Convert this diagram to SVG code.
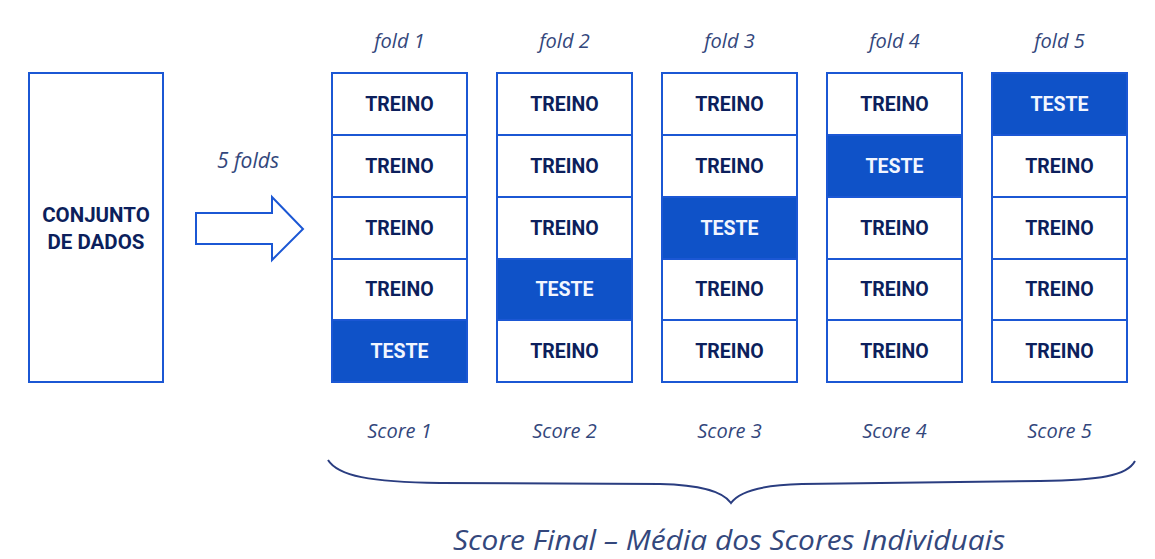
<svg xmlns="http://www.w3.org/2000/svg" width="1155" height="559" viewBox="0 0 1155 559">
  <style>
    .box { fill: #ffffff; stroke: #1b57d4; stroke-width: 2; }
    .test { fill: #0f52c8; stroke: #1b57d4; stroke-width: 2; }
    .lbl { font-family: Roboto, "Liberation Sans", sans-serif; font-weight: 700; font-size: 19.5px; text-anchor: middle; }
    .big { font-size: 20.5px; }
    .train-t { fill: #0c1f5c; }
    .test-t { fill: #f2f6ff; }
    .it { font-family: "Open Sans", "Liberation Sans", sans-serif; font-style: italic; font-size: 20px; fill: #33477c; text-anchor: middle; }
    .brace { fill: none; stroke: #2a3d80; stroke-width: 2; }
  </style>
  <rect width="1155" height="559" fill="#ffffff"/>

  <!-- dataset block -->
  <g id="dataset">
    <rect class="box" x="29" y="73" width="134" height="309"/>
    <text class="lbl big train-t" x="96" y="222">CONJUNTO</text>
    <text class="lbl big train-t" x="96" y="249">DE DADOS</text>
  </g>

  <!-- split arrow -->
  <g id="connectors">
    <polygon class="box" points="196,213 272,213 272,197 303,229 272,260 272,244 196,244"/>
    <text class="it" x="248" y="168" style="font-size:21px">5 folds</text>
  </g>

  <!-- fold 1 -->
  <g id="fold1">
    <text class="it" x="399.5" y="48">fold 1</text>
    <rect class="box" x="332" y="73" width="135" height="62"/>
    <rect class="box" x="332" y="135" width="135" height="62"/>
    <rect class="box" x="332" y="197" width="135" height="62"/>
    <rect class="box" x="332" y="259" width="135" height="61"/>
    <rect class="test" x="332" y="320" width="135" height="62"/>
    <text class="lbl train-t" x="399.5" y="111">TREINO</text>
    <text class="lbl train-t" x="399.5" y="173">TREINO</text>
    <text class="lbl train-t" x="399.5" y="235">TREINO</text>
    <text class="lbl train-t" x="399.5" y="296">TREINO</text>
    <text class="lbl test-t" x="399.5" y="358">TESTE</text>
    <text class="it" x="399.5" y="438">Score 1</text>
  </g>

  <!-- fold 2 -->
  <g id="fold2">
    <text class="it" x="564.5" y="48">fold 2</text>
    <rect class="box" x="497" y="73" width="135" height="62"/>
    <rect class="box" x="497" y="135" width="135" height="62"/>
    <rect class="box" x="497" y="197" width="135" height="62"/>
    <rect class="test" x="497" y="259" width="135" height="61"/>
    <rect class="box" x="497" y="320" width="135" height="62"/>
    <text class="lbl train-t" x="564.5" y="111">TREINO</text>
    <text class="lbl train-t" x="564.5" y="173">TREINO</text>
    <text class="lbl train-t" x="564.5" y="235">TREINO</text>
    <text class="lbl test-t" x="564.5" y="296">TESTE</text>
    <text class="lbl train-t" x="564.5" y="358">TREINO</text>
    <text class="it" x="564.5" y="438">Score 2</text>
  </g>

  <!-- fold 3 -->
  <g id="fold3">
    <text class="it" x="729.5" y="48">fold 3</text>
    <rect class="box" x="662" y="73" width="135" height="62"/>
    <rect class="box" x="662" y="135" width="135" height="62"/>
    <rect class="test" x="662" y="197" width="135" height="62"/>
    <rect class="box" x="662" y="259" width="135" height="61"/>
    <rect class="box" x="662" y="320" width="135" height="62"/>
    <text class="lbl train-t" x="729.5" y="111">TREINO</text>
    <text class="lbl train-t" x="729.5" y="173">TREINO</text>
    <text class="lbl test-t" x="729.5" y="235">TESTE</text>
    <text class="lbl train-t" x="729.5" y="296">TREINO</text>
    <text class="lbl train-t" x="729.5" y="358">TREINO</text>
    <text class="it" x="729.5" y="438">Score 3</text>
  </g>

  <!-- fold 4 -->
  <g id="fold4">
    <text class="it" x="894.5" y="48">fold 4</text>
    <rect class="box" x="827" y="73" width="135" height="62"/>
    <rect class="test" x="827" y="135" width="135" height="62"/>
    <rect class="box" x="827" y="197" width="135" height="62"/>
    <rect class="box" x="827" y="259" width="135" height="61"/>
    <rect class="box" x="827" y="320" width="135" height="62"/>
    <text class="lbl train-t" x="894.5" y="111">TREINO</text>
    <text class="lbl test-t" x="894.5" y="173">TESTE</text>
    <text class="lbl train-t" x="894.5" y="235">TREINO</text>
    <text class="lbl train-t" x="894.5" y="296">TREINO</text>
    <text class="lbl train-t" x="894.5" y="358">TREINO</text>
    <text class="it" x="894.5" y="438">Score 4</text>
  </g>

  <!-- fold 5 -->
  <g id="fold5">
    <text class="it" x="1059.5" y="48">fold 5</text>
    <rect class="test" x="992" y="73" width="135" height="62"/>
    <rect class="box" x="992" y="135" width="135" height="62"/>
    <rect class="box" x="992" y="197" width="135" height="62"/>
    <rect class="box" x="992" y="259" width="135" height="61"/>
    <rect class="box" x="992" y="320" width="135" height="62"/>
    <text class="lbl test-t" x="1059.5" y="111">TESTE</text>
    <text class="lbl train-t" x="1059.5" y="173">TREINO</text>
    <text class="lbl train-t" x="1059.5" y="235">TREINO</text>
    <text class="lbl train-t" x="1059.5" y="296">TREINO</text>
    <text class="lbl train-t" x="1059.5" y="358">TREINO</text>
    <text class="it" x="1059.5" y="438">Score 5</text>
  </g>

  <!-- brace gathering the scores -->
  <g id="summary">
    <path class="brace" d="M328,460 C338,476 370,482 440,483 L660,484 C705,485 724,493 731,503 C738,493 757,485 802,484 L1040,481 C1100,480 1127,476 1135,461"/>
    <text class="it" x="729" y="550" style="font-size:27px" textLength="552" lengthAdjust="spacingAndGlyphs">Score Final – Média dos Scores Individuais</text>
  </g>
</svg>
